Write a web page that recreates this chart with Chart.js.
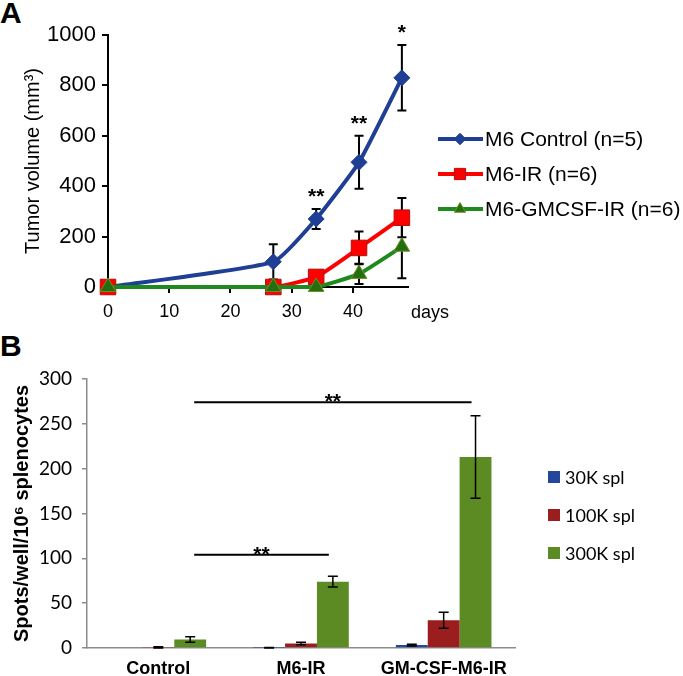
<!DOCTYPE html>
<html>
<head>
<meta charset="utf-8">
<script src="https://cdn.jsdelivr.net/npm/chart.js@4.4.1/dist/chart.umd.min.js"></script>
<style>
    body { margin: 0; background: #fff; width: 683px; height: 676px; position: relative; overflow: hidden; }
    .panel { position: absolute; left: 0; }
    #wrapA { top: 0; }
    #wrapB { top: 330px; }
    .letter { position: absolute; left: 0; font: bold 30px "Liberation Sans", Arial, sans-serif; line-height: 30px; }
</style>
</head>
<body>
<div class="letter" style="top:-2px">A</div>
<div class="letter" style="top:331px">B</div>
<div class="panel" id="wrapA"><canvas id="chartA" width="683" height="325"></canvas></div>
<div class="panel" id="wrapB"><canvas id="chartB" width="683" height="346"></canvas></div>
<script>
// ---- Panel A: tumor volume ----
const days = [0, 27, 34, 41, 48];
const controlVol = [0, 100, 270, 495, 830];
const controlErr = [0, 70, 40, 105, 130];
const irVol = [0, 0, 40, 155, 275];
const irErr = [0, 0, 15, 65, 78];
const gmVol = [0, 0, 0, 52, 160];
const gmErr = [0, 0, 0, 40, 125];
const starsA = ['', '', '**', '**', '*'];
const seriesNamesA = ['M6 Control (n=5)', 'M6-IR (n=6)', 'M6-GMCSF-IR (n=6)'];

// ---- Panel B: ELISPOT ----
const groups = ['Control', 'M6-IR', 'GM-CSF-M6-IR'];
const barNames = ['30K spl', '100K spl', '300K spl'];
const spl30 = [0, 0.2, 3.3];
const spl30Err = [0, 0.3, 1];
const spl100 = [0.5, 5, 31];
const spl100Err = [0.8, 1.5, 9];
const spl300 = [9.5, 74, 213];
const spl300Err = [3, 6, 46];
// significance brackets between the 300K bars
const sigFrom = [0, 0];
const sigTo = [1, 2];
const sigLevel = [104, 274];
const sigText = ['**', '**'];

const SANS = '"Liberation Sans", Arial, sans-serif';
const CAL = 'Lato, "Open Sans", sans-serif';
const COL_BLUE = '#1F3F95';
const COL_RED = '#FF0000';
const COL_GREEN = '#1E8A1E';

function pts(xs, ys) {
    return xs.map((x, i) => ({ x: x, y: ys[i] }));
}

function drawErr(ctx, px, top, bot, cap) {
    ctx.beginPath();
    ctx.moveTo(px, top); ctx.lineTo(px, bot);
    ctx.moveTo(px - cap, top); ctx.lineTo(px + cap, top);
    ctx.moveTo(px - cap, bot); ctx.lineTo(px + cap, bot);
    ctx.stroke();
}

const extrasA = {
    id: 'extrasA',
    // error bars sit behind the markers
    beforeDatasetsDraw(chart) {
        const { ctx, scales: { x, y } } = chart;
        const vals = [controlVol, irVol, gmVol];
        const errs = [controlErr, irErr, gmErr];
        ctx.save();
        ctx.strokeStyle = '#000';
        ctx.lineWidth = 2;
        vals.forEach((v, s) => {
            days.forEach((d, i) => {
                if (!errs[s][i]) return;
                drawErr(ctx, x.getPixelForValue(d), y.getPixelForValue(v[i] + errs[s][i]),
                    y.getPixelForValue(Math.max(0, v[i] - errs[s][i])), 4.5);
            });
        });
        ctx.restore();
    },
    afterDatasetsDraw(chart) {
        const { ctx, scales: { x, y } } = chart;
        ctx.save();
        // asterisks above control error bars
        ctx.fillStyle = '#000';
        ctx.font = 'bold 21px ' + SANS;
        ctx.textAlign = 'center';
        ctx.textBaseline = 'middle';
        days.forEach((d, i) => {
            if (!starsA[i]) return;
            ctx.fillText(starsA[i], x.getPixelForValue(d), y.getPixelForValue(controlVol[i] + controlErr[i]) - 12);
        });
        // "days" label after the last tick
        ctx.font = '18px ' + SANS;
        ctx.textAlign = 'left';
        ctx.fillText('days', x.right + 3, 313);
        // legend
        const ly = [139, 174, 209];
        chart.data.datasets.forEach((d, i) => {
            ctx.strokeStyle = d.borderColor;
            ctx.lineWidth = 4;
            ctx.beginPath();
            ctx.moveTo(438, ly[i]); ctx.lineTo(483, ly[i]);
            ctx.stroke();
            ctx.fillStyle = d.pointBackgroundColor;
            ctx.strokeStyle = d.pointBorderColor;
            ctx.lineWidth = 1;
            Chart.helpers.drawPoint(ctx, { pointStyle: d.pointStyle, radius: d.pointRadius * 0.72, borderWidth: 1 }, 460, ly[i]);
            ctx.fillStyle = '#000';
            ctx.font = '21px ' + SANS;
            ctx.fillText(seriesNamesA[i], 485, ly[i] + 1);
        });
        ctx.restore();
    }
};

new Chart(document.getElementById('chartA'), {
    type: 'line',
    data: {
        datasets: [
            {
                label: seriesNamesA[0], data: pts(days, controlVol), order: 3,
                borderColor: COL_BLUE, borderWidth: 4, tension: 0.15, clip: false,
                pointStyle: 'rectRot', pointRadius: 8, pointBorderWidth: 1,
                pointBackgroundColor: COL_BLUE, pointBorderColor: COL_BLUE
            },
            {
                label: seriesNamesA[1], data: pts(days, irVol), order: 2,
                borderColor: COL_RED, borderWidth: 4, tension: 0.15, clip: false,
                pointStyle: 'rect', pointRadius: 11, pointBorderWidth: 1,
                pointBackgroundColor: COL_RED, pointBorderColor: '#B01010'
            },
            {
                label: seriesNamesA[2], data: pts(days, gmVol), order: 1,
                borderColor: COL_GREEN, borderWidth: 4, tension: 0.15, clip: false,
                pointStyle: 'triangle', pointRadius: 9, pointBorderWidth: 1,
                pointBackgroundColor: '#236E10', pointBorderColor: '#6E8F20'
            }
        ]
    },
    options: {
        responsive: false,
        animation: false,
        devicePixelRatio: 1,
        layout: { padding: { left: 0, right: 275, top: 35, bottom: 0 } },
        plugins: { legend: { display: false }, tooltip: { enabled: false } },
        scales: {
            x: {
                type: 'linear', min: 0, max: 49,
                border: { color: '#000', width: 2 },
                grid: { drawOnChartArea: false, tickLength: 6, color: '#000', lineWidth: 2 },
                ticks: { stepSize: 10, color: '#000', font: { size: 18, family: SANS }, padding: 8, maxRotation: 0 },
                afterBuildTicks: s => { s.ticks = s.ticks.filter(t => t.value % 10 === 0); },
                afterFit: s => { s.height = 38; }
            },
            y: {
                min: 0, max: 1000,
                border: { color: '#000', width: 2 },
                grid: { drawOnChartArea: false, tickLength: 6, color: '#000', lineWidth: 2 },
                ticks: { stepSize: 200, color: '#000', font: { size: 22, family: SANS }, padding: 6, callback: v => String(v) },
                title: {
                    display: true, text: 'Tumor volume (mm³)', color: '#000',
                    font: { size: 20, family: SANS }, padding: { top: 21, bottom: 0 }
                },
                afterFit: s => { s.width = 108; }
            }
        }
    },
    plugins: [extrasA]
});

const extrasB = {
    id: 'extrasB',
    afterDatasetsDraw(chart) {
        const { ctx, scales: { y } } = chart;
        const vals = [spl30, spl100, spl300];
        const errs = [spl30Err, spl100Err, spl300Err];
        ctx.save();
        ctx.strokeStyle = '#000';
        ctx.lineWidth = 1.5;
        vals.forEach((v, s) => {
            const meta = chart.getDatasetMeta(s);
            v.forEach((val, i) => {
                if (!errs[s][i]) return;
                drawErr(ctx, meta.data[i].x, y.getPixelForValue(val + errs[s][i]),
                    y.getPixelForValue(Math.max(0, val - errs[s][i])), 5);
            });
        });
        // significance lines between 300K bars
        const green = chart.getDatasetMeta(2).data;
        ctx.lineWidth = 2;
        ctx.fillStyle = '#000';
        ctx.font = 'bold 21px ' + SANS;
        ctx.textAlign = 'center';
        ctx.textBaseline = 'middle';
        sigLevel.forEach((lv, k) => {
            const x1 = green[sigFrom[k]].x + 4;
            const x2 = green[sigTo[k]].x - 4;
            const py = y.getPixelForValue(lv);
            ctx.beginPath();
            ctx.moveTo(x1, py); ctx.lineTo(x2, py);
            ctx.stroke();
            ctx.fillText(sigText[k], (x1 + x2) / 2, py);
        });
        // legend
        const ly = [147, 185, 223];
        ctx.font = '18px ' + CAL;
        ctx.textAlign = 'left';
        chart.data.datasets.forEach((d, i) => {
            ctx.fillStyle = d.backgroundColor;
            ctx.fillRect(548, ly[i] - 6, 12, 12);
            ctx.fillStyle = '#000';
            ctx.fillText(barNames[i], 565, ly[i] + 1);
        });
        ctx.restore();
    }
};

new Chart(document.getElementById('chartB'), {
    type: 'bar',
    data: {
        labels: groups,
        datasets: [
            { label: barNames[0], data: spl30, backgroundColor: '#24479B' },
            { label: barNames[1], data: spl100, backgroundColor: '#9A1E1E' },
            { label: barNames[2], data: spl300, backgroundColor: '#5B8B22' }
        ]
    },
    options: {
        responsive: false,
        animation: false,
        devicePixelRatio: 1,
        layout: { padding: { left: 0, right: 168, top: 49, bottom: 0 } },
        datasets: { bar: { barPercentage: 1, categoryPercentage: 0.67 } },
        plugins: { legend: { display: false }, tooltip: { enabled: false } },
        scales: {
            x: {
                border: { color: '#8C8C8C', width: 1.5 },
                grid: { display: false },
                ticks: { color: '#000', font: { size: 18, weight: 'bold', family: SANS }, padding: 2, maxRotation: 0 },
                afterFit: s => { s.height = 28; }
            },
            y: {
                min: 0, max: 300,
                border: { color: '#8C8C8C', width: 1.5 },
                grid: { drawOnChartArea: false, tickLength: 5, color: '#8C8C8C', lineWidth: 1.5 },
                ticks: { stepSize: 50, color: '#000', font: { size: 19, family: CAL }, padding: 10 },
                title: {
                    display: true, text: 'Spots/well/10⁶ splenocytes', color: '#000',
                    font: { size: 20, weight: 'bold', family: SANS }, padding: { top: 10, bottom: 0 }
                },
                afterFit: s => { s.width = 87; }
            }
        }
    },
    plugins: [extrasB]
});
</script>
</body>
</html>
